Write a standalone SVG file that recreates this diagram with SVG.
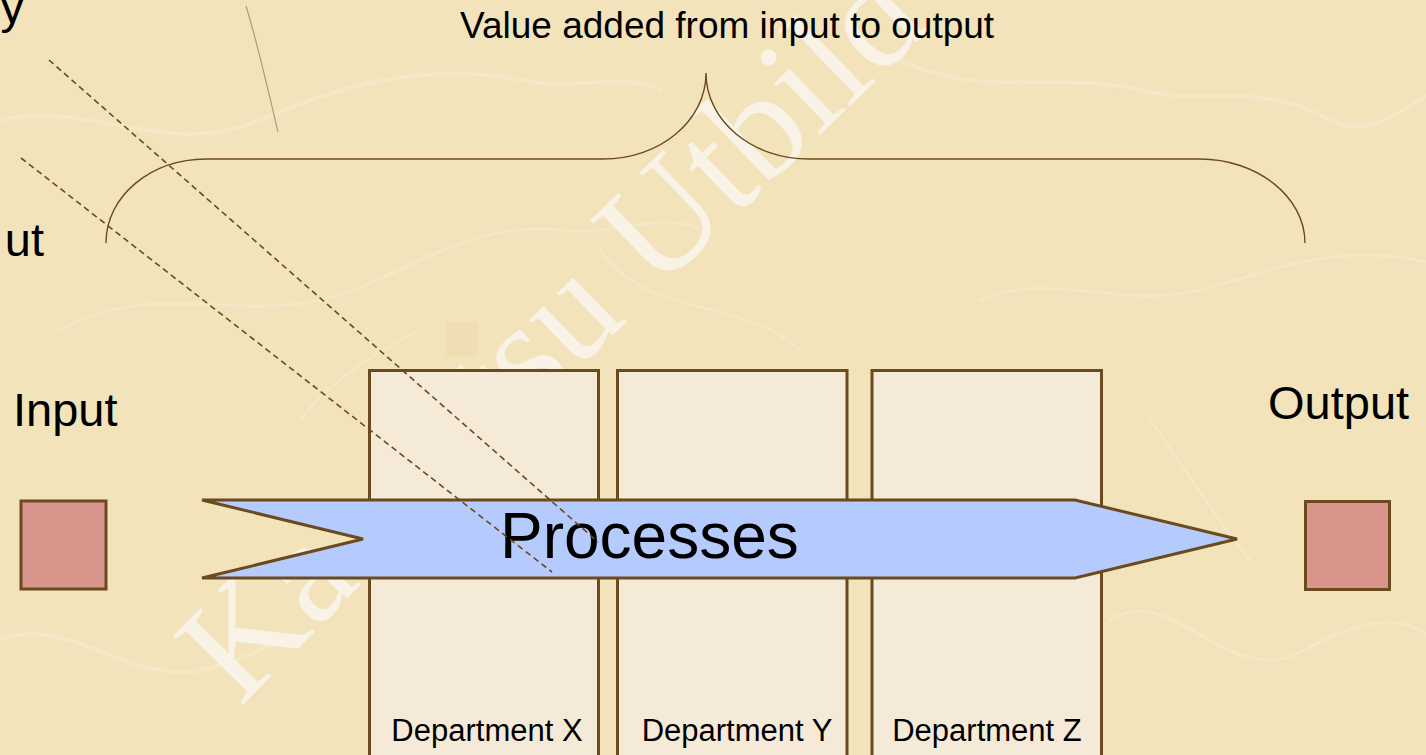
<svg xmlns="http://www.w3.org/2000/svg" width="1426" height="755" viewBox="0 0 1426 755">
  <defs>
    <style>
      .sans { font-family: "Liberation Sans", Arial, sans-serif; fill: #000; }
      .wm { font-family: "Liberation Serif", "Times New Roman", serif; font-size: 150px; fill: #fbf5ec; opacity: 0.88; }
      .edge { stroke: #6b4a1e; stroke-width: 3; }
      .dept { fill: #f5e9d7; }
      .item { fill: #d9958b; }
      .fiber { fill: none; stroke: #fbf4e2; stroke-linecap: round; opacity: 0.3; }
      .link { fill: none; stroke: #6b4a1e; stroke-width: 1.6; stroke-dasharray: 6 4; }
    </style>
  </defs>

  <!-- parchment background -->
  <g id="background">
    <rect x="0" y="0" width="1426" height="755" fill="#f2e3bb"/>
    <path class="fiber" stroke-width="4" d="M0,120 C90,100 170,160 260,120 C330,90 420,60 520,80 C580,92 620,70 660,90"/>
    <path class="fiber" stroke-width="3" d="M60,330 C150,280 230,320 320,300 C400,282 460,220 560,230 C620,236 660,210 700,230"/>
    <path class="fiber" stroke-width="4" d="M900,60 C980,100 1060,70 1140,90 C1200,106 1260,80 1330,120 C1370,140 1400,110 1426,96"/>
    <path class="fiber" stroke-width="3" d="M980,300 C1050,270 1120,310 1200,290 C1260,276 1330,240 1426,262"/>
    <path class="fiber" stroke-width="4" d="M0,640 C70,612 130,690 210,668 C240,660 262,650 280,640"/>
    <path class="fiber" stroke-width="3" d="M1110,620 C1170,580 1230,690 1300,652 C1350,626 1390,610 1426,634"/>
    <path class="fiber" stroke-width="2.5" d="M600,250 C650,320 740,296 800,350"/>
    <path class="fiber" stroke-width="2.5" d="M1150,420 C1180,460 1216,520 1250,560"/>
    <path class="fiber" stroke-width="2.5" d="M300,420 C330,380 380,350 420,330"/>
    <path fill="none" stroke="#6f6450" stroke-width="1.2" opacity="0.55" d="M246,6 C258,45 268,90 278,132"/>
    <rect x="446" y="322" width="32" height="34" fill="#f0c79a" opacity="0.2"/>
  </g>

  <!-- watermark lettering -->
  <g id="watermark">
    <text class="wm" transform="translate(240,708) rotate(-45.6)">Ka</text>
    <text class="wm" transform="translate(503,441) rotate(-44)">tsu Utbild</text>
  </g>

  <!-- value-added brace -->
  <g id="brace">
    <path fill="none" stroke="#6b4a1e" stroke-width="1.4"
          d="M106,243 C106,196 151,159 206,159 L603,159 C660,159 706,121 706,73 C706,121 752,159 809,159 L1200,159 C1256,159 1305,196 1305,243"/>
    <text class="sans" x="460" y="38" font-size="37">Value added from input to output</text>
  </g>

  <!-- departments -->
  <g id="dept-x">
    <rect class="dept edge" x="369.5" y="370.5" width="229" height="400"/>
    <text class="sans" x="487" y="741" font-size="31" text-anchor="middle">Department X</text>
  </g>
  <g id="dept-y">
    <rect class="dept edge" x="617.5" y="370.5" width="229.5" height="400"/>
    <text class="sans" x="737" y="741" font-size="31" text-anchor="middle">Department Y</text>
  </g>
  <g id="dept-z">
    <rect class="dept edge" x="872" y="370.5" width="229.5" height="400"/>
    <text class="sans" x="987" y="741" font-size="31" text-anchor="middle">Department Z</text>
  </g>

  <!-- process flow arrow -->
  <g id="processes">
    <polygon class="edge" fill="#b6cbfd" stroke-linejoin="miter"
             points="202,500 1075,500 1237,539 1075,578 202,578 363,539"/>
    <text class="sans" x="500" y="558" font-size="64">Processes</text>
  </g>

  <!-- input and output -->
  <g id="node-input">
    <text class="sans" x="13" y="426" font-size="47">Input</text>
    <rect class="item edge" x="21" y="501" width="85" height="88"/>
  </g>
  <g id="node-output">
    <text class="sans" x="1268" y="419" font-size="47">Output</text>
    <rect class="item edge" x="1305.5" y="501.5" width="84" height="88"/>
  </g>

  <!-- partially visible labels at the left edge -->
  <g id="edge-labels">
    <text class="sans" x="24" y="23" font-size="47" text-anchor="end">y</text>
    <text class="sans" x="44" y="256" font-size="47" text-anchor="end">ut</text>
  </g>

  <!-- dashed leader lines -->
  <g id="connectors">
    <line class="link" x1="49" y1="60" x2="598" y2="542"/>
    <line class="link" x1="21" y1="158" x2="552" y2="572"/>
  </g>
</svg>
